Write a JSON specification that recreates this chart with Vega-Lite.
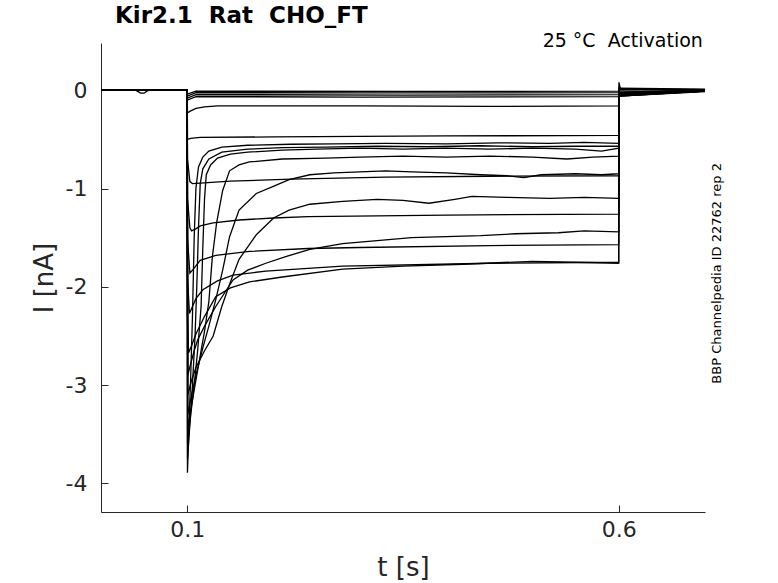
{
  "$schema": "https://vega.github.io/schema/vega-lite/v6.json",
  "width": 604,
  "height": 469,
  "autosize": "none",
  "padding": {"left": 101, "top": 43, "right": 73, "bottom": 71},
  "background": "white",
  "title": {
    "text": "Kir2.1\u00a0\u00a0Rat\u00a0\u00a0CHO_FT",
    "anchor": "start",
    "frame": "group",
    "dx": 14,
    "offset": -14,
    "baseline": "alphabetic",
    "font": "DejaVu Sans",
    "fontSize": 23,
    "fontWeight": "bold",
    "color": "black"
  },
  "data": {
    "values": [
      {"s": "a", "t": 0, "i": 0}, {"s": "a", "t": 0.04, "i": 0}, {"s": "a", "t": 0.043, "i": -0.015}, {"s": "a", "t": 0.046, "i": -0.03}, {"s": "a", "t": 0.05, "i": -0.03}, {"s": "a", "t": 0.053, "i": -0.01}, {"s": "a", "t": 0.056, "i": 0}, {"s": "a", "t": 0.1, "i": 0}, {"s": "a", "t": 0.1002, "i": -0.04}, {"s": "a", "t": 0.11, "i": -0.01}, {"s": "a", "t": 0.35, "i": -0.012}, {"s": "a", "t": 0.6, "i": -0.01}, {"s": "a", "t": 0.6003, "i": 0.08}, {"s": "a", "t": 0.602, "i": 0.01}, {"s": "a", "t": 0.7, "i": 0.005},

      {"s": "b", "t": 0, "i": 0}, {"s": "b", "t": 0.1, "i": 0}, {"s": "b", "t": 0.1002, "i": -0.06}, {"s": "b", "t": 0.11, "i": -0.025}, {"s": "b", "t": 0.3, "i": -0.028}, {"s": "b", "t": 0.6, "i": -0.025}, {"s": "b", "t": 0.6003, "i": -0.02}, {"s": "b", "t": 0.7, "i": 0},

      {"s": "c", "t": 0, "i": 0}, {"s": "c", "t": 0.1, "i": 0}, {"s": "c", "t": 0.1002, "i": -0.08}, {"s": "c", "t": 0.11, "i": -0.045}, {"s": "c", "t": 0.35, "i": -0.05}, {"s": "c", "t": 0.6, "i": -0.045}, {"s": "c", "t": 0.6003, "i": -0.03}, {"s": "c", "t": 0.7, "i": -0.005},

      {"s": "d", "t": 0, "i": 0}, {"s": "d", "t": 0.1, "i": 0}, {"s": "d", "t": 0.1002, "i": -0.1}, {"s": "d", "t": 0.11, "i": -0.065}, {"s": "d", "t": 0.3, "i": -0.07}, {"s": "d", "t": 0.6, "i": -0.065}, {"s": "d", "t": 0.6003, "i": -0.04}, {"s": "d", "t": 0.7, "i": -0.01},

      {"s": "e", "t": 0, "i": 0}, {"s": "e", "t": 0.1, "i": 0}, {"s": "e", "t": 0.1002, "i": -0.23}, {"s": "e", "t": 0.104, "i": -0.21}, {"s": "e", "t": 0.11, "i": -0.185}, {"s": "e", "t": 0.12, "i": -0.17}, {"s": "e", "t": 0.135, "i": -0.16}, {"s": "e", "t": 0.3, "i": -0.16}, {"s": "e", "t": 0.45, "i": -0.165}, {"s": "e", "t": 0.6, "i": -0.16}, {"s": "e", "t": 0.6003, "i": -0.03}, {"s": "e", "t": 0.7, "i": -0.005},

      {"s": "f", "t": 0, "i": 0}, {"s": "f", "t": 0.1, "i": 0}, {"s": "f", "t": 0.1002, "i": -0.5}, {"s": "f", "t": 0.104, "i": -0.49}, {"s": "f", "t": 0.115, "i": -0.48}, {"s": "f", "t": 0.2, "i": -0.475}, {"s": "f", "t": 0.4, "i": -0.465}, {"s": "f", "t": 0.6, "i": -0.46}, {"s": "f", "t": 0.6003, "i": -0.04}, {"s": "f", "t": 0.7, "i": -0.01},

      {"s": "g", "t": 0, "i": 0}, {"s": "g", "t": 0.1, "i": 0}, {"s": "g", "t": 0.1002, "i": -0.7}, {"s": "g", "t": 0.103, "i": -0.93}, {"s": "g", "t": 0.106, "i": -0.95}, {"s": "g", "t": 0.115, "i": -0.945}, {"s": "g", "t": 0.15, "i": -0.925}, {"s": "g", "t": 0.22, "i": -0.905}, {"s": "g", "t": 0.33, "i": -0.885}, {"s": "g", "t": 0.45, "i": -0.875}, {"s": "g", "t": 0.6, "i": -0.87}, {"s": "g", "t": 0.6003, "i": -0.05}, {"s": "g", "t": 0.7, "i": -0.01},

      {"s": "h", "t": 0, "i": 0}, {"s": "h", "t": 0.1, "i": 0}, {"s": "h", "t": 0.1002, "i": -1.1}, {"s": "h", "t": 0.103, "i": -1.4}, {"s": "h", "t": 0.105, "i": -1.43}, {"s": "h", "t": 0.11, "i": -1.41}, {"s": "h", "t": 0.115, "i": -1.38}, {"s": "h", "t": 0.13, "i": -1.35}, {"s": "h", "t": 0.16, "i": -1.32}, {"s": "h", "t": 0.2, "i": -1.3}, {"s": "h", "t": 0.24, "i": -1.285}, {"s": "h", "t": 0.4, "i": -1.27}, {"s": "h", "t": 0.6, "i": -1.26}, {"s": "h", "t": 0.6003, "i": -0.05}, {"s": "h", "t": 0.7, "i": -0.01},

      {"s": "j", "t": 0, "i": 0}, {"s": "j", "t": 0.1, "i": 0}, {"s": "j", "t": 0.1002, "i": -1.5}, {"s": "j", "t": 0.103, "i": -1.86}, {"s": "j", "t": 0.107, "i": -1.82}, {"s": "j", "t": 0.115, "i": -1.73}, {"s": "j", "t": 0.133, "i": -1.68}, {"s": "j", "t": 0.172, "i": -1.64}, {"s": "j", "t": 0.24, "i": -1.61}, {"s": "j", "t": 0.3, "i": -1.6}, {"s": "j", "t": 0.45, "i": -1.58}, {"s": "j", "t": 0.6, "i": -1.57}, {"s": "j", "t": 0.6003, "i": -0.06}, {"s": "j", "t": 0.7, "i": -0.015},

      {"s": "k", "t": 0, "i": 0}, {"s": "k", "t": 0.1, "i": 0}, {"s": "k", "t": 0.1002, "i": -1.9}, {"s": "k", "t": 0.1025, "i": -2.27}, {"s": "k", "t": 0.106, "i": -2.2}, {"s": "k", "t": 0.11, "i": -2.12}, {"s": "k", "t": 0.118, "i": -2.03}, {"s": "k", "t": 0.135, "i": -1.94}, {"s": "k", "t": 0.153, "i": -1.88}, {"s": "k", "t": 0.191, "i": -1.84}, {"s": "k", "t": 0.28, "i": -1.79}, {"s": "k", "t": 0.45, "i": -1.76}, {"s": "k", "t": 0.6, "i": -1.75}, {"s": "k", "t": 0.6003, "i": -0.06}, {"s": "k", "t": 0.7, "i": -0.01},

      {"s": "l", "t": 0, "i": 0}, {"s": "l", "t": 0.1, "i": 0}, {"s": "l", "t": 0.1002, "i": -2.3}, {"s": "l", "t": 0.1015, "i": -2.67}, {"s": "l", "t": 0.105, "i": -2.6}, {"s": "l", "t": 0.11, "i": -2.48}, {"s": "l", "t": 0.12, "i": -2.3}, {"s": "l", "t": 0.133, "i": -2.1}, {"s": "l", "t": 0.15, "i": -2.01}, {"s": "l", "t": 0.172, "i": -1.95}, {"s": "l", "t": 0.21, "i": -1.9}, {"s": "l", "t": 0.28, "i": -1.82}, {"s": "l", "t": 0.35, "i": -1.79}, {"s": "l", "t": 0.42, "i": -1.77}, {"s": "l", "t": 0.5, "i": -1.74}, {"s": "l", "t": 0.55, "i": -1.75}, {"s": "l", "t": 0.6, "i": -1.76}, {"s": "l", "t": 0.6003, "i": -0.06}, {"s": "l", "t": 0.7, "i": -0.01},

      {"s": "m", "t": 0, "i": 0}, {"s": "m", "t": 0.1, "i": 0}, {"s": "m", "t": 0.1005, "i": -2.9}, {"s": "m", "t": 0.104, "i": -2.78}, {"s": "m", "t": 0.108, "i": -2.65}, {"s": "m", "t": 0.112, "i": -2.54}, {"s": "m", "t": 0.12, "i": -2.4}, {"s": "m", "t": 0.133, "i": -2.2}, {"s": "m", "t": 0.153, "i": -1.93}, {"s": "m", "t": 0.17, "i": -1.83}, {"s": "m", "t": 0.191, "i": -1.76}, {"s": "m", "t": 0.215, "i": -1.69}, {"s": "m", "t": 0.242, "i": -1.62}, {"s": "m", "t": 0.28, "i": -1.56}, {"s": "m", "t": 0.32, "i": -1.53}, {"s": "m", "t": 0.36, "i": -1.5}, {"s": "m", "t": 0.4, "i": -1.49}, {"s": "m", "t": 0.44, "i": -1.48}, {"s": "m", "t": 0.48, "i": -1.46}, {"s": "m", "t": 0.53, "i": -1.45}, {"s": "m", "t": 0.56, "i": -1.43}, {"s": "m", "t": 0.6, "i": -1.44}, {"s": "m", "t": 0.6003, "i": -0.05}, {"s": "m", "t": 0.7, "i": -0.01},

      {"s": "n", "t": 0, "i": 0}, {"s": "n", "t": 0.1, "i": 0}, {"s": "n", "t": 0.1005, "i": -3.1}, {"s": "n", "t": 0.105, "i": -2.95}, {"s": "n", "t": 0.11, "i": -2.82}, {"s": "n", "t": 0.12, "i": -2.65}, {"s": "n", "t": 0.13, "i": -2.5}, {"s": "n", "t": 0.14, "i": -2.2}, {"s": "n", "t": 0.15, "i": -1.95}, {"s": "n", "t": 0.16, "i": -1.72}, {"s": "n", "t": 0.18, "i": -1.47}, {"s": "n", "t": 0.2, "i": -1.3}, {"s": "n", "t": 0.218, "i": -1.22}, {"s": "n", "t": 0.242, "i": -1.16}, {"s": "n", "t": 0.28, "i": -1.13}, {"s": "n", "t": 0.32, "i": -1.11}, {"s": "n", "t": 0.35, "i": -1.12}, {"s": "n", "t": 0.38, "i": -1.15}, {"s": "n", "t": 0.41, "i": -1.11}, {"s": "n", "t": 0.43, "i": -1.08}, {"s": "n", "t": 0.47, "i": -1.09}, {"s": "n", "t": 0.52, "i": -1.1}, {"s": "n", "t": 0.56, "i": -1.09}, {"s": "n", "t": 0.6, "i": -1.1}, {"s": "n", "t": 0.6003, "i": -0.04}, {"s": "n", "t": 0.7, "i": -0.005},

      {"s": "o", "t": 0, "i": 0}, {"s": "o", "t": 0.1, "i": 0}, {"s": "o", "t": 0.1005, "i": -3.3}, {"s": "o", "t": 0.105, "i": -3.1}, {"s": "o", "t": 0.11, "i": -2.9}, {"s": "o", "t": 0.118, "i": -2.62}, {"s": "o", "t": 0.125, "i": -2.4}, {"s": "o", "t": 0.133, "i": -2.13}, {"s": "o", "t": 0.141, "i": -1.83}, {"s": "o", "t": 0.149, "i": -1.49}, {"s": "o", "t": 0.16, "i": -1.22}, {"s": "o", "t": 0.18, "i": -1.05}, {"s": "o", "t": 0.199, "i": -0.98}, {"s": "o", "t": 0.218, "i": -0.91}, {"s": "o", "t": 0.242, "i": -0.86}, {"s": "o", "t": 0.27, "i": -0.84}, {"s": "o", "t": 0.3, "i": -0.83}, {"s": "o", "t": 0.33, "i": -0.82}, {"s": "o", "t": 0.36, "i": -0.83}, {"s": "o", "t": 0.4, "i": -0.84}, {"s": "o", "t": 0.44, "i": -0.86}, {"s": "o", "t": 0.47, "i": -0.87}, {"s": "o", "t": 0.49, "i": -0.89}, {"s": "o", "t": 0.51, "i": -0.86}, {"s": "o", "t": 0.55, "i": -0.85}, {"s": "o", "t": 0.58, "i": -0.86}, {"s": "o", "t": 0.6, "i": -0.85}, {"s": "o", "t": 0.6003, "i": -0.03}, {"s": "o", "t": 0.7, "i": 0},

      {"s": "p", "t": 0, "i": 0}, {"s": "p", "t": 0.1, "i": 0}, {"s": "p", "t": 0.1004, "i": -3.45}, {"s": "p", "t": 0.105, "i": -3.2}, {"s": "p", "t": 0.11, "i": -2.95}, {"s": "p", "t": 0.115, "i": -2.7}, {"s": "p", "t": 0.12, "i": -2.45}, {"s": "p", "t": 0.125, "i": -2.15}, {"s": "p", "t": 0.129, "i": -1.7}, {"s": "p", "t": 0.134, "i": -1.35}, {"s": "p", "t": 0.141, "i": -1.02}, {"s": "p", "t": 0.149, "i": -0.82}, {"s": "p", "t": 0.16, "i": -0.76}, {"s": "p", "t": 0.172, "i": -0.73}, {"s": "p", "t": 0.21, "i": -0.7}, {"s": "p", "t": 0.26, "i": -0.69}, {"s": "p", "t": 0.3, "i": -0.68}, {"s": "p", "t": 0.35, "i": -0.67}, {"s": "p", "t": 0.4, "i": -0.68}, {"s": "p", "t": 0.45, "i": -0.67}, {"s": "p", "t": 0.5, "i": -0.68}, {"s": "p", "t": 0.54, "i": -0.7}, {"s": "p", "t": 0.57, "i": -0.68}, {"s": "p", "t": 0.6, "i": -0.67}, {"s": "p", "t": 0.6003, "i": -0.02}, {"s": "p", "t": 0.7, "i": 0},

      {"s": "q", "t": 0, "i": 0}, {"s": "q", "t": 0.1, "i": 0}, {"s": "q", "t": 0.1003, "i": -3.6}, {"s": "q", "t": 0.104, "i": -3.3}, {"s": "q", "t": 0.108, "i": -3.0}, {"s": "q", "t": 0.112, "i": -2.65}, {"s": "q", "t": 0.116, "i": -2.2}, {"s": "q", "t": 0.118, "i": -1.6}, {"s": "q", "t": 0.12, "i": -1.1}, {"s": "q", "t": 0.122, "i": -0.86}, {"s": "q", "t": 0.127, "i": -0.76}, {"s": "q", "t": 0.135, "i": -0.69}, {"s": "q", "t": 0.15, "i": -0.65}, {"s": "q", "t": 0.17, "i": -0.63}, {"s": "q", "t": 0.21, "i": -0.61}, {"s": "q", "t": 0.25, "i": -0.6}, {"s": "q", "t": 0.3, "i": -0.59}, {"s": "q", "t": 0.35, "i": -0.6}, {"s": "q", "t": 0.4, "i": -0.59}, {"s": "q", "t": 0.45, "i": -0.6}, {"s": "q", "t": 0.5, "i": -0.59}, {"s": "q", "t": 0.55, "i": -0.6}, {"s": "q", "t": 0.58, "i": -0.62}, {"s": "q", "t": 0.6, "i": -0.59}, {"s": "q", "t": 0.6003, "i": 0}, {"s": "q", "t": 0.7, "i": 0.005},

      {"s": "r", "t": 0, "i": 0}, {"s": "r", "t": 0.1, "i": 0}, {"s": "r", "t": 0.1003, "i": -3.75}, {"s": "r", "t": 0.103, "i": -3.4}, {"s": "r", "t": 0.106, "i": -3.0}, {"s": "r", "t": 0.109, "i": -2.5}, {"s": "r", "t": 0.111, "i": -2.0}, {"s": "r", "t": 0.113, "i": -1.4}, {"s": "r", "t": 0.115, "i": -0.95}, {"s": "r", "t": 0.118, "i": -0.8}, {"s": "r", "t": 0.125, "i": -0.7}, {"s": "r", "t": 0.14, "i": -0.63}, {"s": "r", "t": 0.17, "i": -0.6}, {"s": "r", "t": 0.21, "i": -0.585}, {"s": "r", "t": 0.26, "i": -0.58}, {"s": "r", "t": 0.32, "i": -0.57}, {"s": "r", "t": 0.38, "i": -0.575}, {"s": "r", "t": 0.44, "i": -0.565}, {"s": "r", "t": 0.5, "i": -0.575}, {"s": "r", "t": 0.55, "i": -0.57}, {"s": "r", "t": 0.6, "i": -0.57}, {"s": "r", "t": 0.6003, "i": 0.01}, {"s": "r", "t": 0.7, "i": 0.005},

      {"s": "u", "t": 0, "i": 0}, {"s": "u", "t": 0.1, "i": 0}, {"s": "u", "t": 0.1002, "i": -3.89}, {"s": "u", "t": 0.102, "i": -3.4}, {"s": "u", "t": 0.104, "i": -2.9}, {"s": "u", "t": 0.106, "i": -2.3}, {"s": "u", "t": 0.108, "i": -1.5}, {"s": "u", "t": 0.11, "i": -1.0}, {"s": "u", "t": 0.113, "i": -0.78}, {"s": "u", "t": 0.118, "i": -0.68}, {"s": "u", "t": 0.125, "i": -0.62}, {"s": "u", "t": 0.14, "i": -0.58}, {"s": "u", "t": 0.17, "i": -0.56}, {"s": "u", "t": 0.22, "i": -0.55}, {"s": "u", "t": 0.27, "i": -0.545}, {"s": "u", "t": 0.33, "i": -0.54}, {"s": "u", "t": 0.4, "i": -0.545}, {"s": "u", "t": 0.46, "i": -0.535}, {"s": "u", "t": 0.52, "i": -0.54}, {"s": "u", "t": 0.56, "i": -0.53}, {"s": "u", "t": 0.6, "i": -0.54}, {"s": "u", "t": 0.6003, "i": 0.02}, {"s": "u", "t": 0.7, "i": 0.01}
    ]
  },
  "layer": [
    {
      "mark": {"type": "line", "color": "black", "strokeWidth": 1.3, "clip": true},
      "encoding": {
        "x": {
          "field": "t", "type": "quantitative",
          "scale": {"domain": [0, 0.7], "nice": false, "zero": false},
          "axis": {"title": "t [s]", "values": [0.1, 0.6], "labelExpr": "'' + datum.value", "labelPadding": 14, "titlePadding": 14}
        },
        "y": {
          "field": "i", "type": "quantitative",
          "scale": {"domain": [-4.29, 0.48], "nice": false, "zero": false},
          "axis": {"title": "I [nA]", "values": [0, -1, -2, -3, -4], "labelExpr": "'' + datum.value", "labelPadding": 21, "titlePadding": 8}
        },
        "detail": {"field": "s", "type": "nominal"}
      }
    },
    {
      "data": {"values": [{"label": "25 °C\u00a0\u00a0Activation"}]},
      "mark": {"type": "text", "align": "right", "baseline": "alphabetic", "font": "DejaVu Sans", "fontSize": 19, "color": "black"},
      "encoding": {
        "x": {"datum": 0.6975},
        "y": {"datum": 0.435},
        "text": {"field": "label"}
      }
    },
    {
      "data": {"values": [{"label": "BBP Channelpedia ID 22762 rep 2"}]},
      "mark": {"type": "text", "align": "center", "baseline": "middle", "angle": 270, "font": "DejaVu Sans", "fontSize": 13, "color": "black"},
      "encoding": {
        "x": {"datum": 0.7143},
        "y": {"datum": -1.863},
        "text": {"field": "label"}
      }
    }
  ],
  "config": {
    "view": {"stroke": null},
    "axis": {
      "grid": false,
      "domainColor": "#262626",
      "tickColor": "#262626",
      "labelColor": "#262626",
      "titleColor": "#262626",
      "labelFont": "DejaVu Sans",
      "titleFont": "DejaVu Sans",
      "labelFontSize": 22,
      "titleFontSize": 26,
      "titleFontWeight": "normal",
      "tickSize": -7,
      "domainWidth": 1,
      "tickWidth": 1
    }
  }
}
